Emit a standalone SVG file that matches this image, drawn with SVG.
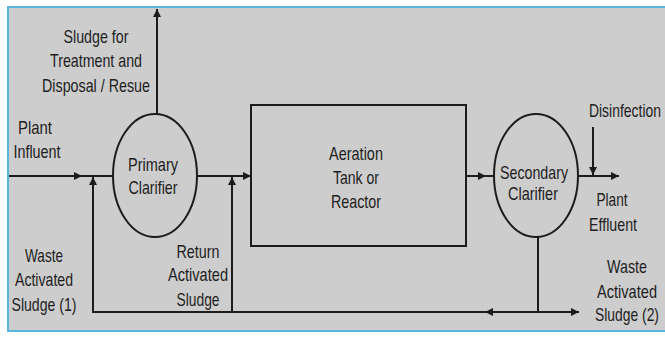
<svg xmlns="http://www.w3.org/2000/svg" width="665" height="338" viewBox="0 0 665 338">
<style>
.t{font-family:"Liberation Sans",Arial,sans-serif;font-size:19px;fill:#1e1e1e;text-anchor:middle}
.ln{stroke:#1c1c1c;stroke-width:2;fill:none}
.nd{stroke:#1c1c1c;stroke-width:2;fill:none}
</style>
<defs>
<marker id="ah" viewBox="0 0 10 10" refX="10" refY="5" markerWidth="9" markerHeight="8" markerUnits="userSpaceOnUse" orient="auto">
<path d="M0,0 L10,5 L0,10 z" fill="#1c1c1c"/>
</marker>
</defs>
<rect x="0" y="0" width="665" height="338" fill="#ffffff"/>
<rect x="8" y="7" width="660" height="324" fill="#cdcdcd" stroke="#5ab4e0" stroke-width="2"/>

<g id="connectors">
<line class="ln" x1="157" y1="114" x2="157" y2="9" marker-end="url(#ah)"/>
<line class="ln" x1="9" y1="176" x2="82" y2="176" marker-end="url(#ah)"/>
<line class="ln" x1="80" y1="176" x2="113" y2="176"/>
<line class="ln" x1="93" y1="312" x2="93" y2="177" marker-end="url(#ah)"/>
<line class="ln" x1="197" y1="176" x2="251" y2="176" marker-end="url(#ah)"/>
<line class="ln" x1="232" y1="312" x2="232" y2="177" marker-end="url(#ah)"/>
<line class="ln" x1="466" y1="176" x2="486" y2="176" marker-end="url(#ah)"/>
<line class="ln" x1="484" y1="176" x2="494" y2="176"/>
<line class="ln" x1="578" y1="176" x2="619" y2="176" marker-end="url(#ah)"/>
<line class="ln" x1="593" y1="127" x2="593" y2="175" marker-end="url(#ah)"/>
<line class="ln" x1="538" y1="237" x2="538" y2="312"/>
<line class="ln" x1="92" y1="312" x2="579" y2="312" marker-end="url(#ah)"/>
<line class="ln" x1="538" y1="312" x2="485" y2="312" marker-end="url(#ah)"/>
</g>

<g id="primary-clarifier">
<ellipse class="nd" cx="155" cy="175.5" rx="42" ry="61.5"/>
<text class="t" x="153" y="171" textLength="50" lengthAdjust="spacingAndGlyphs">Primary</text>
<text class="t" x="153" y="194" textLength="49" lengthAdjust="spacingAndGlyphs">Clarifier</text>
</g>

<g id="aeration-tank">
<rect class="nd" x="251" y="105" width="215" height="141"/>
<text class="t" x="356" y="160" textLength="54" lengthAdjust="spacingAndGlyphs">Aeration</text>
<text class="t" x="356" y="184" textLength="46" lengthAdjust="spacingAndGlyphs">Tank or</text>
<text class="t" x="356" y="208" textLength="50" lengthAdjust="spacingAndGlyphs">Reactor</text>
</g>

<g id="secondary-clarifier">
<ellipse class="nd" cx="536" cy="175.5" rx="42" ry="61.5"/>
<text class="t" x="534" y="179" textLength="68" lengthAdjust="spacingAndGlyphs">Secondary</text>
<text class="t" x="533" y="200" textLength="50" lengthAdjust="spacingAndGlyphs">Clarifier</text>
</g>

<g id="labels">
<text class="t" x="96" y="43" textLength="65" lengthAdjust="spacingAndGlyphs">Sludge for</text>
<text class="t" x="96" y="67" textLength="92" lengthAdjust="spacingAndGlyphs">Treatment and</text>
<text class="t" x="96" y="92" textLength="108" lengthAdjust="spacingAndGlyphs">Disposal / Resue</text>
<text class="t" x="35" y="134" textLength="34" lengthAdjust="spacingAndGlyphs">Plant</text>
<text class="t" x="37" y="158" textLength="47" lengthAdjust="spacingAndGlyphs">Influent</text>
<text class="t" x="44" y="262" textLength="38" lengthAdjust="spacingAndGlyphs">Waste</text>
<text class="t" x="44" y="286" textLength="58" lengthAdjust="spacingAndGlyphs">Activated</text>
<text class="t" x="44" y="311" textLength="65" lengthAdjust="spacingAndGlyphs">Sludge (1)</text>
<text class="t" x="198" y="258" textLength="43" lengthAdjust="spacingAndGlyphs">Return</text>
<text class="t" x="198" y="281" textLength="60" lengthAdjust="spacingAndGlyphs">Activated</text>
<text class="t" x="198" y="306" textLength="43" lengthAdjust="spacingAndGlyphs">Sludge</text>
<text class="t" x="612" y="206" textLength="31" lengthAdjust="spacingAndGlyphs">Plant</text>
<text class="t" x="613" y="231" textLength="48" lengthAdjust="spacingAndGlyphs">Effluent</text>
<g transform="scale(0.75 1)">
<text class="t" x="833.3" y="117" textLength="96" lengthAdjust="spacingAndGlyphs">Disinfection</text>
<text class="t" x="836" y="273" textLength="53.3" lengthAdjust="spacingAndGlyphs">Waste</text>
<text class="t" x="836" y="298" textLength="80" lengthAdjust="spacingAndGlyphs">Activated</text>
<text class="t" x="836" y="321" textLength="85.3" lengthAdjust="spacingAndGlyphs">Sludge (2)</text>
</g>
</g>
</svg>
